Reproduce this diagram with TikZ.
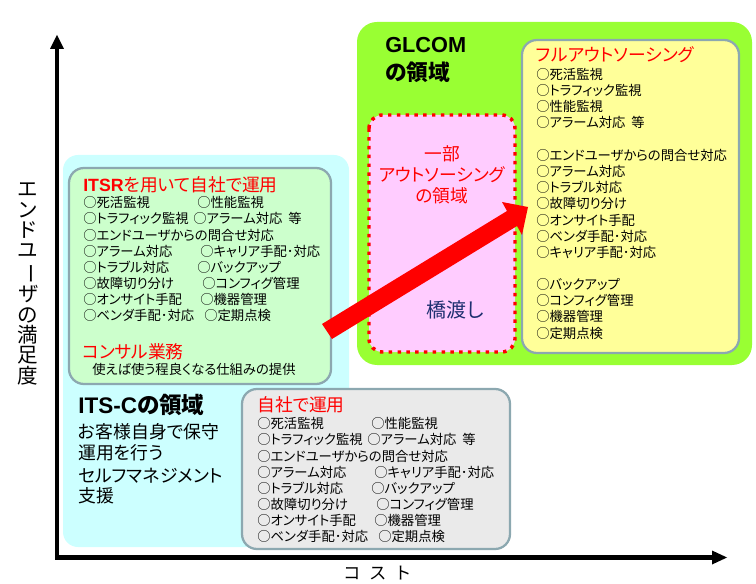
\documentclass[tikz,border=0pt]{standalone}
\usepackage{fontspec}
\setmainfont[RawFeature=+palt]{Noto Sans CJK JP}
\newfontfamily\latfont{Liberation Sans}
\definecolor{areacyan}{HTML}{CCFFFF}
\definecolor{areagreen}{HTML}{99FF33}
\definecolor{boxgreen}{HTML}{CCFFCC}
\definecolor{boxyellow}{HTML}{FFFF99}
\definecolor{boxgray}{HTML}{EAEAEA}
\definecolor{boxpink}{HTML}{FFCCFF}
\definecolor{boxedge}{HTML}{8CA8B0}
\definecolor{navytext}{HTML}{1F3070}
\tikzset{
  area/.style={rounded corners=15*0.75pt,draw=none},
  panel/.style={rounded corners=15*0.75pt,draw=boxedge,line width=1.7pt},
  itemtext/.style={anchor=west,inner sep=0pt,yshift=-0.5pt,font=\fontsize{10pt}{11pt}\selectfont,text=black},
  redtitle/.style={anchor=west,inner sep=0pt,font=\fontsize{13.3pt}{15pt}\selectfont,text=red},
  bigtext/.style={anchor=west,inner sep=0pt,font=\fontsize{13.4pt}{15pt}\selectfont,text=black},
  headtext/.style={anchor=west,inner sep=0pt,font=\fontsize{16.3pt}{18pt}\selectfont\bfseries,text=black},
  axisline/.style={line width=3.4pt,black},
  axishead/.style={fill=black,draw=none}
}
\begin{document}
\begin{tikzpicture}[x=0.75pt,y=-0.75pt]
\useasboundingbox (0,0) rectangle (756,584);
% areas
\fill[area,fill=areacyan] (63,155) rectangle (349,547);
\fill[area,fill=areagreen,rounded corners=15pt] (357,22) rectangle (752,365);
\path[panel,fill=boxgreen] (69,168) rectangle (331,384);
\path[panel,fill=boxyellow] (522,40) rectangle (739,353);
\path[panel,fill=boxgray] (242,389) rectangle (510,549);
\path[fill=boxpink,draw=red,line width=2.6pt,dash pattern=on 2.6pt off 4pt,rounded corners=10pt] (369,115) rectangle (515,352);
% axes
\coordinate (origin) at (57,557.5);
\coordinate (ytip) at (57,35);
\coordinate (xtip) at (727,557.5);
\draw[axisline] (55,557.5) -- (714,557.5);
\draw[axisline] (origin) -- (57,48);
\fill[axishead] (ytip) -- (64,49) -- (50,49) -- cycle;
\fill[axishead] (xtip) -- (712,550.5) -- (712,564.5) -- cycle;
% red arrow
\coordinate (bridgetail) at (327,331.5);
\coordinate (bridgetip) at (528,207);
\fill[red] (322,324) -- (507,211) -- (502,202) -- (bridgetip) -- (522,235) -- (517,226) -- (332,339) -- cycle;
% axis labels
\node[inner sep=0pt,align=center,font=\fontsize{15.4pt}{15.3pt}\selectfont] (ylabel) at (28,284)
  {エ\\ン\\ド\\ユ\\\rotatebox[origin=c]{-90}{ー}\\ザ\\の\\満\\足\\度};
\node[inner sep=0pt,font=\fontsize{13pt}{15pt}\selectfont] (xlabel) at (377,573) {コ\hspace{0.6em}ス\hspace{0.6em}ト};
% GLCOM
\node[headtext] (glcomA) at (385,45) {\latfont\bfseries GLCOM};
\node[headtext] (glcomB) at (385,72) {の領域};
% ITS-C
\node[headtext,font=\fontsize{16.9pt}{18pt}\selectfont\bfseries] (itscA) at (78,405) {{\latfont\bfseries ITS-C}の領域};
\node[bigtext] (itscB) at (78,432) {お客様自身で保守};
\node[bigtext] (itscC) at (78,453) {運用を行う};
\node[bigtext] (itscD) at (78,476) {セルフマネジメント};
\node[bigtext] (itscE) at (78,496) {支援};
% partial outsourcing
\node[inner sep=0pt,align=center,text=red,font=\fontsize{13.3pt}{15.7pt}\selectfont] (partial) at (442,175) {一部\\アウトソーシング\\の領域};
\node[inner sep=0pt,text=navytext,font=\fontsize{15pt}{18pt}\selectfont] (hashi) at (455,310) {橋渡し};
% ITSR box
\node[redtitle] (itsrT) at (83,185) {{\latfont\bfseries ITSR}を用いて自社で運用};
\node[redtitle] (itsrC) at (82,352) {コンサル業務};
\node[itemtext] (itsrN) at (92,369) {使えば使う程良くなる仕組みの提供};
\foreach \xa/\ya/\ta/\xb/\tb [count=\i] in {
 83/202/○死活監視/197/○性能監視,
 83/218/○トラフィック監視/193/○アラーム対応\ \ 等,
 83/235/○エンドユーザからの問合せ対応//,
 83/251/○アラーム対応/200/○キャリア手配･対応,
 83/267/○トラブル対応/197/○バックアップ,
 83/283/○故障切り分け/202/○コンフィグ管理,
 83/299/○オンサイト手配/200/○機器管理,
 83/315/○ベンダ手配･対応/204/○定期点検}
{
  \node[itemtext] (ga\i) at (\xa,\ya) {\ta};
  \ifx\xb\empty\else \node[itemtext] (gb\i) at (\xb,\ya) {\tb};\fi
  \pgfmathsetmacro{\yy}{\ya+221}
  \pgfmathsetmacro{\xaa}{\xa+174}
  \node[itemtext] (ra\i) at (\xaa,\yy) {\ta};
  \ifx\xb\empty\else
    \pgfmathsetmacro{\xbb}{\xb+174}
    \node[itemtext] (rb\i) at (\xbb,\yy) {\tb};
  \fi
}
\node[redtitle] (selfT) at (257,405) {自社で運用};
% full outsourcing
\node[redtitle] (fullT) at (536,55) {フルアウトソーシング};
\foreach \y/\t [count=\i] in {
 74/○死活監視,90/○トラフィック監視,106/○性能監視,122/○アラーム対応\ \ 等,
 155/○エンドユーザからの問合せ対応,171/○アラーム対応,187/○トラブル対応,203/○故障切り分け,
 220/○オンサイト手配,236/○ベンダ手配･対応,252/○キャリア手配･対応,
 284/○バックアップ,300/○コンフィグ管理,316/○機器管理,333/○定期点検}
{
  \node[itemtext] (f\i) at (536,\y) {\t};
}
\end{tikzpicture}
\end{document}
